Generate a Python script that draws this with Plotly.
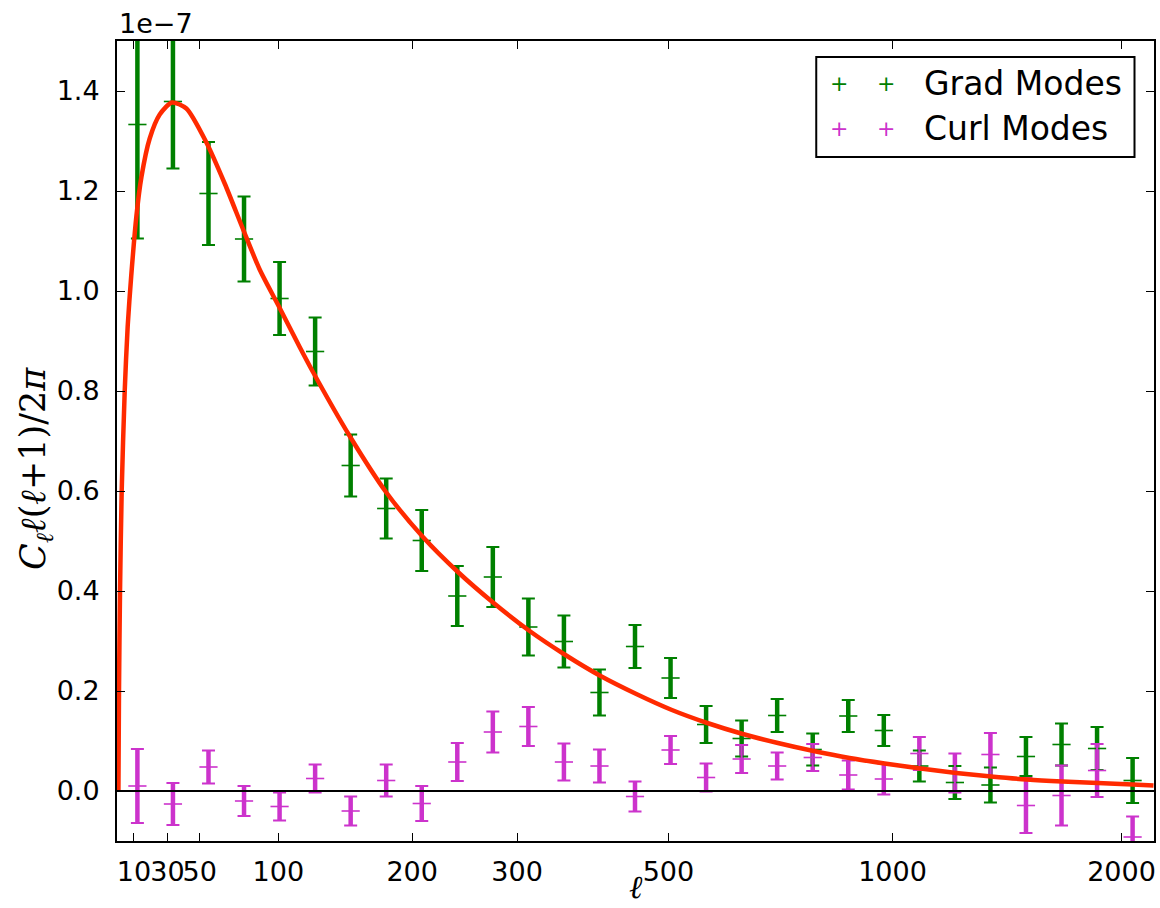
import numpy as np
import plotly.graph_objects as go

# ---------------- data (values in units of 1e-7) ----------------
bin_index = list(range(29))

grad_vals = [1.333, 1.379, 1.195, 1.104, 0.985, 0.879, 0.651, 0.565, 0.501, 0.390,
             0.428, 0.328, 0.299, 0.197, 0.289, 0.226, 0.133, 0.105, 0.151, 0.083,
             0.150, 0.121, 0.050, 0.017, 0.012, 0.069, 0.093, 0.085, 0.021]
grad_errs = [0.228, 0.134, 0.103, 0.085, 0.073, 0.068, 0.062, 0.060, 0.061, 0.060,
             0.060, 0.057, 0.052, 0.046, 0.043, 0.040, 0.037, 0.036, 0.033, 0.032,
             0.032, 0.031, 0.031, 0.033, 0.035, 0.039, 0.042, 0.043, 0.045]

curl_vals = [0.010, -0.026, 0.048, -0.020, -0.031, 0.025, -0.040, 0.021, -0.025, 0.058,
             0.118, 0.129, 0.058, 0.050, -0.011, 0.082, 0.027, 0.064, 0.050, 0.067,
             0.032, 0.024, 0.075, 0.036, 0.073, -0.029, -0.009, 0.041, -0.092]
curl_errs = [0.074, 0.042, 0.033, 0.030, 0.028, 0.028, 0.029, 0.032, 0.035, 0.038,
             0.041, 0.039, 0.037, 0.033, 0.030, 0.028, 0.028, 0.028, 0.027, 0.027,
             0.029, 0.031, 0.033, 0.039, 0.043, 0.055, 0.060, 0.053, 0.041]

# theory curve sampled along the binned axis
theory_pos = [-0.534, -0.518, -0.489, -0.442, -0.357, -0.273, -0.174, -0.028, 0.113, 0.346,
              0.628, 0.973, 1.378, 1.941, 2.456, 2.970, 3.440, 4.003, 4.565, 4.940,
              5.972, 7.004, 8.034, 9.018, 10.023, 11.035, 12.020, 13.032, 14.037, 15.038,
              16.034, 17.035, 18.020, 19.024, 20.037, 21.021, 22.034, 23.038, 24.023, 25.024,
              26.020, 27.021, 28.006, 28.588]
theory_vals = [0.0, 0.2, 0.4, 0.6, 0.8, 0.93, 1.03, 1.15, 1.228, 1.305,
               1.353, 1.377, 1.365, 1.297, 1.215, 1.124, 1.043, 0.966, 0.888, 0.838,
               0.710, 0.597, 0.508, 0.438, 0.376, 0.320, 0.273, 0.230, 0.194, 0.162,
               0.136, 0.114, 0.096, 0.080, 0.066, 0.055, 0.045, 0.036, 0.029, 0.023,
               0.019, 0.016, 0.013, 0.011]

# multipole tick labels and their location along the binned axis
tick_labels = ["10", "30", "50", "100", "200", "300", "500", "1000", "2000"]
tick_pos = [-0.096, 0.844, 1.752, 3.966, 7.730, 10.683, 14.94, 21.246, 27.688]

y_ticks = [0.0, 0.2, 0.4, 0.6, 0.8, 1.0, 1.2, 1.4]

GREEN = "#008000"
MAGENTA = "#cc33cc"
RED = "#ff2a00"

fig = go.Figure()

# thick error bars (no caps)
for vals, errs, col in [(grad_vals, grad_errs, GREEN), (curl_vals, curl_errs, MAGENTA)]:
    fig.add_trace(go.Scatter(
        x=bin_index, y=vals, mode="markers",
        marker=dict(size=1, color="rgba(0,0,0,0)"),
        error_y=dict(type="data", array=errs, visible=True, color=col,
                     thickness=4.5, width=0),
        hoverinfo="skip", showlegend=False))

# caps and '+' markers
for vals, errs, col in [(grad_vals, grad_errs, GREEN), (curl_vals, curl_errs, MAGENTA)]:
    fig.add_trace(go.Scatter(
        x=bin_index, y=vals, mode="markers",
        marker=dict(symbol="line-ew", size=13, color=col,
                    line=dict(color=col, width=1.6)),
        error_y=dict(type="data", array=errs, visible=True, color=col,
                     thickness=2, width=6.5),
        showlegend=False))

# theory curve
fig.add_trace(go.Scatter(
    x=theory_pos, y=theory_vals, mode="lines",
    line=dict(color=RED, width=4.5, shape="spline", smoothing=0.7),
    showlegend=False))

# horizontal zero line
fig.add_shape(type="line", xref="paper", x0=0, x1=1, yref="y", y0=0, y1=0,
              line=dict(color="black", width=2), layer="above")

axis_common = dict(
    showline=True, linecolor="black", linewidth=2, mirror="ticks",
    ticks="inside", ticklen=8, tickwidth=1, tickcolor="black",
    showgrid=False, zeroline=False,
    tickfont=dict(family="DejaVu Sans", size=27, color="black"),
)

fig.update_xaxes(
    range=[-0.574, 28.602], tickmode="array", tickvals=tick_pos, ticktext=tick_labels,
    tickangle=0, ticklabelstandoff=6, **axis_common)
fig.update_yaxes(
    range=[-0.1, 1.5], tickmode="array", tickvals=y_ticks, tickformat=".1f",
    ticklabelstandoff=10, **axis_common)

# axis titles
fig.add_annotation(text="<i>ℓ</i>", xref="paper", yref="paper", x=0.5, y=-0.0835,
                   xanchor="center", yanchor="bottom", showarrow=False,
                   font=dict(family="DejaVu Serif", size=32, color="black"))
fig.add_annotation(text="<i>C</i><sub><i>ℓ</i></sub><i>ℓ</i>(<i>ℓ</i>+1)/2<i>π</i>",
                   xref="paper", yref="paper", x=-0.0784, y=0.466, textangle=-90,
                   xanchor="center", yanchor="middle", showarrow=False,
                   font=dict(family="DejaVu Serif", size=35, color="black"))

# offset text
fig.add_annotation(text="1e\u22127", xref="paper", yref="paper", x=0, y=1,
                   xanchor="left", yanchor="bottom", showarrow=False,
                   font=dict(family="DejaVu Sans", size=27, color="black"))

# legend box
fig.add_shape(type="rect", xref="paper", yref="paper",
              x0=0.6743, x1=0.9812, y0=0.855, y1=0.98,
              line=dict(color="black", width=2), fillcolor="white", layer="above")
legend_rows = [("Grad Modes", GREEN, 0.9468), ("Curl Modes", MAGENTA, 0.8905)]
for label, col, yy in legend_rows:
    for xx in (0.6961, 0.7418):
        fig.add_annotation(text="+", xref="paper", yref="paper", x=xx, y=yy,
                           xanchor="center", yanchor="middle", showarrow=False,
                           font=dict(family="DejaVu Sans", size=22, color=col))
    fig.add_annotation(text=label, xref="paper", yref="paper", x=0.7767, y=yy,
                       xanchor="left", yanchor="middle", showarrow=False,
                       font=dict(family="DejaVu Sans", size=33, color="black"))

fig.update_layout(
    width=1160, height=908,
    margin=dict(l=117, r=6, t=41, b=67, autoexpand=False),
    plot_bgcolor="white", paper_bgcolor="white",
    showlegend=False,
    font=dict(family="DejaVu Sans", color="black"),
)

fig.write_html("out.html")
